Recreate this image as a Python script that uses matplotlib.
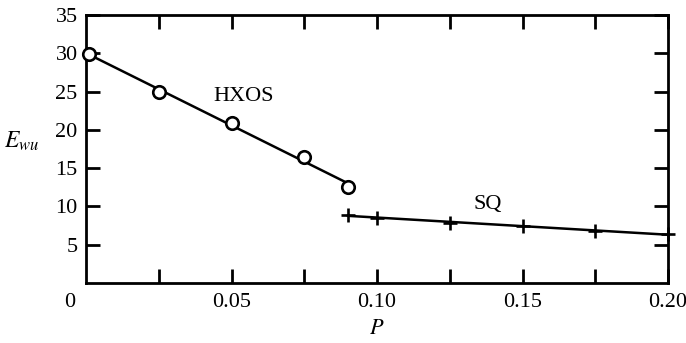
import numpy as np
import matplotlib
matplotlib.use("Agg")
import matplotlib.pyplot as plt

plt.rcParams['font.family'] = ['Liberation Serif', 'DejaVu Serif']
plt.rcParams['mathtext.fontset'] = 'stix'

# HXOS series (open circles)
p_hxos = [0.001, 0.025, 0.05, 0.075, 0.09]
e_hxos = [29.9, 24.9, 20.9, 16.4, 12.5]

# SQ series (plus markers)
p_sq = [0.09, 0.10, 0.125, 0.15, 0.175, 0.20]
e_sq = [8.9, 8.5, 7.9, 7.4, 6.8, 6.4]

x_ticks = [0.05, 0.10, 0.15, 0.20]
x_ticklabels = ['0.05', '0.10', '0.15', '0.20']
y_ticks = [5, 10, 15, 20, 25, 30, 35]

fig = plt.figure(figsize=(6.86, 3.43), dpi=100)
ax = fig.add_axes([0.1254, 0.1749, 0.8484, 0.7814])

# straight-line fits through each series
c1 = np.polyfit(p_hxos, e_hxos, 1)
xs1 = np.array([0.0, 0.09])
ax.plot(xs1, np.polyval(c1, xs1), color='black', lw=1.8)
ax.plot(p_hxos, e_hxos, 'o', ms=9, mfc='white', mec='black', mew=1.9,
        clip_on=False, zorder=3)

c2 = np.polyfit(p_sq, e_sq, 1)
xs2 = np.array([0.09, 0.20])
ax.plot(xs2, np.polyval(c2, xs2), color='black', lw=1.8)
ax.plot(p_sq, e_sq, '+', ms=10, mec='black', mew=1.9, clip_on=False, zorder=3)

ax.text(0.054, 24.3, 'HXOS', fontsize=16, ha='center', va='center')
ax.text(0.138, 10.2, 'SQ', fontsize=16, ha='center', va='center')

ax.set_xlim(0, 0.20)
ax.set_ylim(0, 35)
ax.set_xticks(x_ticks)
ax.set_xticklabels(x_ticklabels)
ax.set_xticks(np.arange(0.025, 0.2, 0.025), minor=True)
ax.set_yticks(y_ticks)

for s in ax.spines.values():
    s.set_linewidth(2.0)

ax.tick_params(axis='both', which='both', direction='in', top=True, right=True,
               width=2.0, labelsize=16)
ax.tick_params(axis='x', which='major', length=10, pad=7)
ax.tick_params(axis='x', which='minor', length=10)
ax.tick_params(axis='y', which='major', length=10, pad=6)

# origin label sits below-left of the corner
ax.annotate('0', xy=(0, 0), xycoords=('data', 'axes fraction'),
            xytext=(-12, -7), textcoords='offset points',
            ha='center', va='top', fontsize=16)

ax.set_xlabel('$P$', fontsize=16, labelpad=6)
ax.set_ylabel(r'$\mathbf{\mathit{E}}_{wu}$', fontsize=17, rotation=0, va='center')
ax.yaxis.set_label_coords(-0.11, 0.53)

fig.savefig('out.png', dpi=100)
